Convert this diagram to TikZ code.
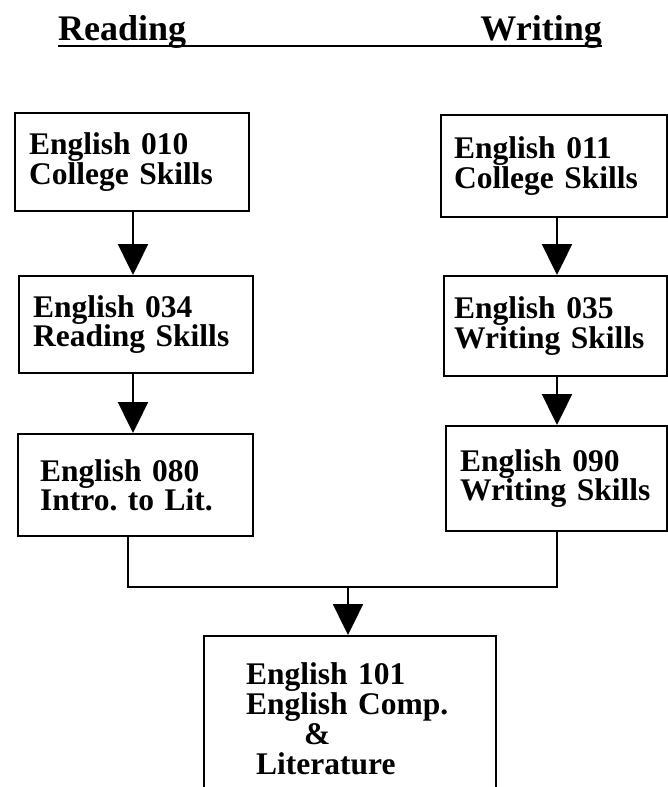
\documentclass[tikz,border=0pt]{standalone}
\usepackage{fontspec}
\setmainfont{Liberation Serif}
\usetikzlibrary{arrows.meta}
\frenchspacing
\tikzset{
  box/.style={draw, line width=2.4pt, anchor=north west, align=left, inner ysep=0pt,
    font=\fontsize{31.5}{29.5}\selectfont\bfseries},
  flow/.style={line width=2.4pt, -{Triangle[length=31pt,width=30pt]}},
  link/.style={line width=2.4pt},
  head/.style={inner sep=0pt, font=\fontsize{36}{40}\selectfont\bfseries}
}
\begin{document}
\begin{tikzpicture}[x=1pt,y=-1pt]
  \useasboundingbox (0,0) rectangle (667,787);
  \node[head,anchor=base west] (read) at (58,40) {Reading};
  \node[head,anchor=base east] (write) at (602,40) {Writing};
  \draw[link] ([yshift=-6pt]read.base west) -- ([yshift=-6pt]write.base east);
  % reading column
  \node[box,text width=206pt,inner xsep=14pt,minimum height=98pt] (e010) at (14,112) {English 010\\College Skills};
  \node[box,text width=206pt,inner xsep=14pt,minimum height=97pt] (e034) at (18,275) {English 034\\Reading Skills};
  \node[box,text width=191pt,inner xsep=22pt,minimum height=102pt] (e080) at (17,433) {English 080\\Intro. to Lit.};
  % writing column
  \node[box,text width=200pt,inner xsep=13pt,minimum height=102pt] (e011) at (440,114) {English 011\\College Skills};
  \node[box,text width=203pt,inner xsep=10pt,minimum height=100pt] (e035) at (443,275) {English 035\\Writing Skills};
  \node[box,text width=193pt,inner xsep=14pt,minimum height=105pt] (e090) at (445,425) {English 090\\Writing Skills};
  \node[box,text width=208pt,inner xsep=42pt,minimum height=165pt,
    font=\fontsize{31.5}{30}\selectfont\bfseries] (e101) at (203,635)
    {English 101\\English Comp.\\\hspace*{58pt}\&\\\hspace*{10pt}Literature};
  \coordinate (lx) at (133,0);
  \coordinate (rx) at (557,0);
  \foreach \a/\b/\c in {e010/e034/lx, e034/e080/lx, e011/e035/rx, e035/e090/rx}
    \draw[flow] (\a.south -| \c) -- (\b.north -| \c);
  \coordinate (lj) at (128,587);
  \coordinate (rj) at (557,587);
  \coordinate (mj) at (348,587);
  \draw[link] (e080.south -| lj) -- (lj) -- (rj) -- (e090.south -| rj);
  \draw[flow] (mj) -- (e101.north -| mj);
\end{tikzpicture}
\end{document}
